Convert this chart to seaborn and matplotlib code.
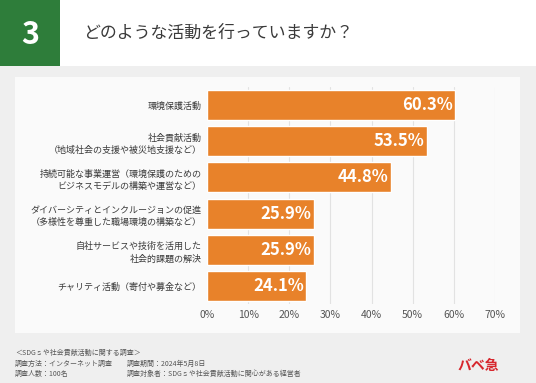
import matplotlib
matplotlib.use('Agg')
import matplotlib.pyplot as plt
from matplotlib.patches import Rectangle
import seaborn as sns
import pandas as pd

# chart data
categories = [
    '環境保護活動',
    '社会貢献活動\n（地域社会の支援や被災地支援など）',
    '持続可能な事業運営（環境保護のための\nビジネスモデルの構築や運営など）',
    'ダイバーシティとインクルージョンの促進\n（多様性を尊重した職場環境の構築など）',
    '自社サービスや技術を活用した\n社会的課題の解決',
    'チャリティ活動（寄付や募金など）',
]
values = [60.3, 53.5, 44.8, 25.9, 25.9, 24.1]
x_ticks = [0, 10, 20, 30, 40, 50, 60, 70]

title = 'どのような活動を行っていますか？'
number = '3'
footer_left = ['＜SDGｓや社会貢献活動に関する調査＞', '調査方法：インターネット調査', '調査人数：100名']
footer_right = ['調査期間：2024年5月8日', '調査対象者：SDGｓや社会貢献活動に関心がある経営者']

sns.set_theme(style='white')
plt.rcParams['font.family'] = ['Noto Sans CJK JP', 'DejaVu Sans']

W, H = 536, 383
fig = plt.figure(figsize=(W / 100, H / 100), dpi=100)
fig.patch.set_facecolor('#efefef')

# header band, number box, inner panel
fig.add_artist(Rectangle((0, 1 - 66 / H), 1, 66 / H, transform=fig.transFigure,
                         facecolor='white', edgecolor='none', zorder=0))
fig.add_artist(Rectangle((0, 1 - 66 / H), 60 / W, 66 / H, transform=fig.transFigure,
                         facecolor='#2e7d3a', edgecolor='none', zorder=1))
fig.add_artist(Rectangle((15 / W, 1 - 333 / H), 505 / W, 256 / H, transform=fig.transFigure,
                         facecolor='#fafafa', edgecolor='none', zorder=0))
fig.text(30 / W, 1 - 35 / H, number, color='white', fontsize=22, ha='center', va='center',
         weight='bold')
fig.text(83 / W, 1 - 33 / H, title, color='#3a3a3a', fontsize=12.2, ha='left', va='center')

ax = fig.add_axes([207 / W, 1 - 304 / H, (495 - 207) / W, (304 - 87) / H])
ax.set_facecolor('none')

df = pd.DataFrame({'category': categories, 'value': values})
sns.barplot(data=df, x='value', y='category', orient='h', color='#e8822a',
            saturation=1, width=0.83, ax=ax, zorder=3)

for xt in x_ticks[1:]:
    ax.axvline(xt, color='#e2e2e2', lw=0.8, zorder=1)

for i, v in enumerate(values):
    ax.text(v - 0.6, i, f'{v}%', ha='right', va='center', color='white',
            fontsize=12, weight='bold', zorder=4)

ax.set_xlim(0, 70)
ax.set_ylim(5.5, -0.5)
ax.set_xticks(x_ticks)
ax.set_xticklabels([f'{t}%' for t in x_ticks], fontsize=7.5, color='#555555')
ax.set_yticklabels(categories, fontsize=6.5, color='#3a3a3a', linespacing=1.5)
ax.tick_params(axis='both', length=0, pad=4)
ax.set_xlabel('')
ax.set_ylabel('')
for s in ax.spines.values():
    s.set_visible(False)

# footer
fy = [353, 364, 374]
for t, y in zip(footer_left, fy):
    fig.text(15 / W, 1 - y / H, t, fontsize=5, color='#555555', va='center')
for t, y in zip(footer_right, fy[1:]):
    fig.text(127 / W, 1 - y / H, t, fontsize=5, color='#555555', va='center')
fig.text(478 / W, 1 - 366 / H, 'バベ急', fontsize=10, color='#d7262d', weight='bold',
         ha='center', va='center')

fig.savefig('out.png', dpi=100, facecolor=fig.get_facecolor())
